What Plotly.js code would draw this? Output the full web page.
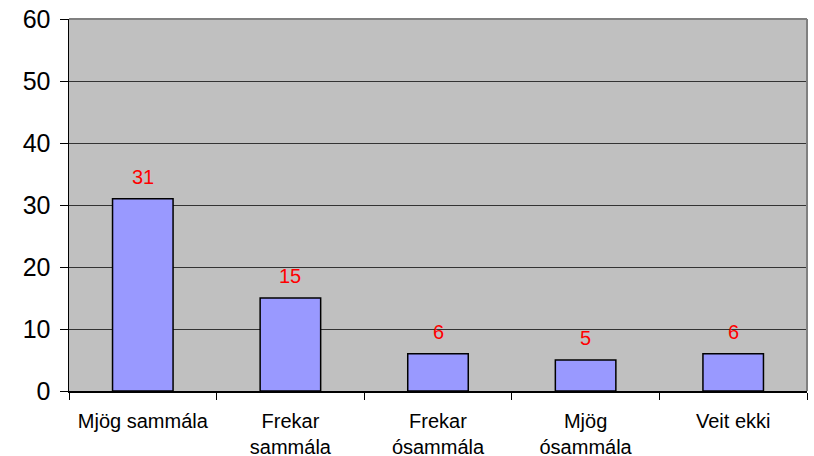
<!DOCTYPE html>
<html><head><meta charset="utf-8">
<script src="https://cdn.plot.ly/plotly-3.0.1.min.js"></script>
<style>html,body{margin:0;padding:0;background:#fff}</style>
</head><body>
<div id="chart" style="width:814px;height:456px"></div>
<script>
const categories = ["Mjög sammála", "Frekar<br>sammála", "Frekar<br>ósammála", "Mjög<br>ósammála", "Veit ekki"];
const values = [31, 15, 6, 5, 6];
const yTicks = [0, 10, 20, 30, 40, 50, 60];

const annotations = categories.map((c, i) => ({
  x: c, y: values[i], xref: 'x', yref: 'y',
  text: String(values[i]), showarrow: false,
  yshift: 22, font: {family: 'Liberation Sans, Arial, sans-serif', size: 20, color: '#FF0000'}
}));

const data = [{
  type: 'bar', x: categories, y: values,
  marker: {color: '#9999FF', line: {color: '#000000', width: 1.5}},
  hoverinfo: 'none'
}];

const layout = {
  width: 814, height: 456,
  margin: {l: 69, r: 7, t: 19, b: 65},
  paper_bgcolor: '#FFFFFF', plot_bgcolor: '#C0C0C0',
  bargap: 0.59, showlegend: false,
  font: {family: 'Liberation Sans, Arial, sans-serif', color: '#000'},
  xaxis: {
    type: 'category', showline: true, linecolor: '#000', linewidth: 1.5,
    ticks: 'outside', tickson: 'boundaries', ticklen: 7, tickcolor: '#000', tickwidth: 1,
    ticklabelstandoff: 11,
    showgrid: false, tickfont: {size: 20}, fixedrange: true
  },
  yaxis: {
    range: [0, 60], tickvals: yTicks, ticktext: yTicks.map(String),
    showline: true, linecolor: '#000', linewidth: 1.5,
    ticks: 'outside', ticklen: 8, tickcolor: '#000', tickwidth: 1,
    ticklabelstandoff: 4,
    showgrid: true, gridcolor: '#333333', gridwidth: 1,
    zeroline: false, tickfont: {size: 25}, fixedrange: true
  },
  annotations: annotations,
  shapes: [
    {type: 'line', xref: 'paper', yref: 'paper', x0: 0, x1: 1, y0: 1, y1: 1, line: {color: '#808080', width: 2}, layer: 'above'},
    {type: 'line', xref: 'paper', yref: 'paper', x0: 1, x1: 1, y0: 0, y1: 1, line: {color: '#808080', width: 2}, layer: 'above'}
  ]
};

Plotly.newPlot('chart', data, layout, {displayModeBar: false, staticPlot: true});
</script>
</body></html>
